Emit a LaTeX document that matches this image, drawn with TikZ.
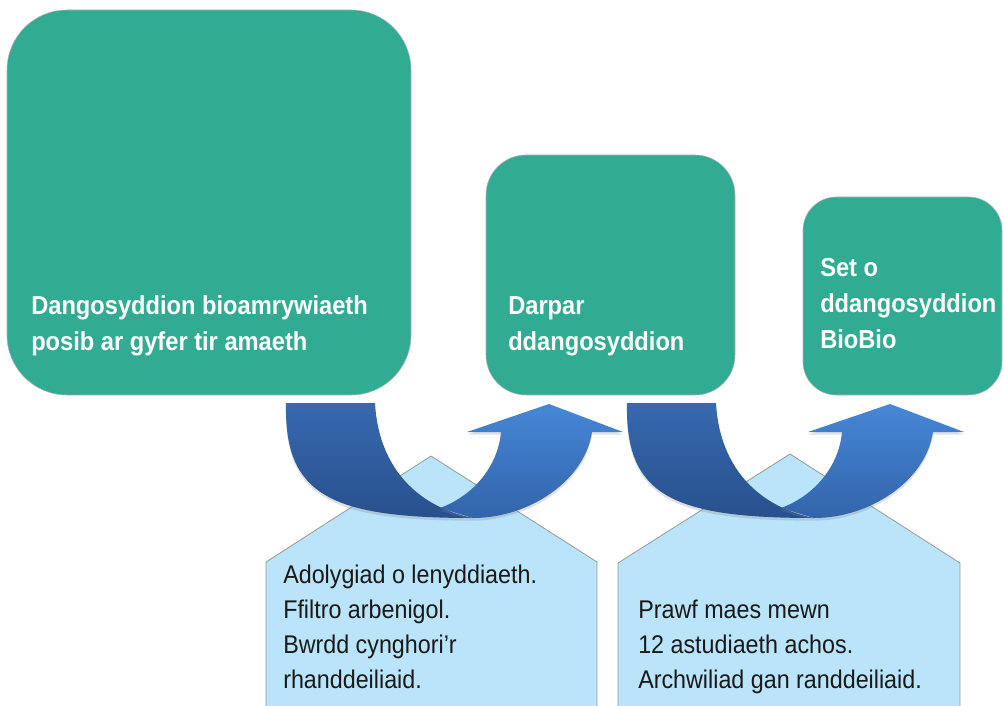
\documentclass[tikz,border=0pt]{standalone}
\usepackage{fontspec}
\setmainfont{Liberation Sans}[FakeStretch=0.91]
\usetikzlibrary{shadows}
\definecolor{boxgreen}{HTML}{31AC93}
\definecolor{housefill}{HTML}{B9E4FA}
\definecolor{arcdarktop}{HTML}{3769AF}
\definecolor{arcdarkbot}{HTML}{28508C}
\definecolor{arclighttop}{HTML}{4687D7}
\definecolor{arclightbot}{HTML}{3264AA}

\begin{document}
\begin{tikzpicture}[x=0.75pt,y=-0.75pt,
  greenbox/.style={draw=gray!60, fill=boxgreen, rectangle, rounded corners=#1, inner sep=0},
  greentext/.style={anchor=base west, align=left, inner sep=0, text=white, font=\bfseries\fontsize{19.5}{27}\selectfont},
  house/.style={draw=gray!80, fill=housefill, line width=0.6pt},
  bluetext/.style={anchor=base west, align=left, inner sep=0, text=black!90, font=\fontsize{19.2}{26.25}\selectfont},
  darkarc/.style={top color=arcdarktop, bottom color=arcdarkbot, drop shadow={opacity=0.25, shadow xshift=0pt, shadow yshift=-2pt}},
  lightarc/.style={top color=arclighttop, bottom color=arclightbot, drop shadow={opacity=0.25, shadow xshift=0pt, shadow yshift=-2pt}}]
\useasboundingbox (0,0) rectangle (1003,706);

\draw[house] (266,712) -- (266,562) -- (431,456) -- (597,562) -- (597,712);
\draw[house] (618,712) -- (618,563) -- (790,454) -- (960,563) -- (960,712);

\foreach \s in {0,341}
{
    \begin{scope}[shift={(\s,0)}]
    \path[darkarc] (286,403) -- (375,403) .. controls (378,460) and (410,505) .. (473,518)
        .. controls (330,518) and (284,495) .. (286,403) -- cycle;
    \path[lightarc] (440,508) -- (473,518) .. controls (530,518) and (585,480) .. (592,432)
        -- (623,432) -- (549,404) -- (467,432) -- (501,432)
        .. controls (498,465) and (475,495) .. (440,508) -- cycle;
    \end{scope}
}

\node[greenbox=45pt, minimum width=303pt, minimum height=288.75pt] (pool) at (209,202.5) {};
\node[greenbox=30pt, minimum width=186.75pt, minimum height=180pt] (cand) at (610.5,275) {};
\node[greenbox=25pt, minimum width=149.25pt, minimum height=148.5pt] (final) at (902.5,296) {};

\node[greentext] (poollbl) at (31,350) {Dangosyddion bioamrywiaeth\\posib ar gyfer tir amaeth};
\node[greentext] (candlbl) at (508,350) {Darpar\\ddangosyddion};
\node[greentext] (finallbl) at (820,348) {Set o\\ddangosyddion\\BioBio};

\node[bluetext] (review) at (283,688) {Adolygiad o lenyddiaeth.\\Ffiltro arbenigol.\\Bwrdd cynghori’r\\rhanddeiliaid.};
\node[bluetext] (field) at (638,688) {Prawf maes mewn\\12 astudiaeth achos.\\Archwiliad gan randdeiliaid.};
\end{tikzpicture}
\end{document}
